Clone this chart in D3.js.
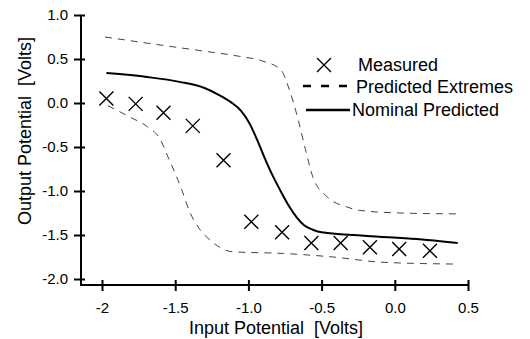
<!DOCTYPE html>
<html>
<head>
<meta charset="utf-8">
<script src="https://cdn.jsdelivr.net/npm/d3@7"></script>
<style>
  body { margin: 0; background: #fff; }
  text { font-family: "Liberation Sans", Arial, sans-serif; fill: #000; white-space: pre; }
</style>
</head>
<body>
<div id="chart"></div>
<script>
// measured points
const measuredX = [-1.97, -1.77, -1.58, -1.38, -1.17, -0.98, -0.77, -0.57, -0.37, -0.17, 0.03, 0.24];
const measuredY = [0.05, -0.01, -0.11, -0.26, -0.65, -1.35, -1.47, -1.59, -1.59, -1.64, -1.66, -1.68];

// nominal predicted curve
const nominalX = [-1.97, -1.69, -1.47, -1.30, -1.20, -1.12, -1.05, -0.99, -0.94, -0.89, -0.83, -0.78, -0.72, -0.67, -0.62, -0.56, -0.50, -0.19, 0.15, 0.43];
const nominalY = [0.34, 0.295, 0.24, 0.17, 0.09, 0.01, -0.09, -0.24, -0.42, -0.62, -0.84, -1.00, -1.18, -1.30, -1.39, -1.44, -1.47, -1.51, -1.545, -1.59];

// predicted extremes (upper / lower)
const upperX = [-1.98, -1.69, -1.35, -1.06, -0.91, -0.78, -0.72, -0.66, -0.61, -0.56, -0.46, -0.33, -0.24, 0.04, 0.43];
const upperY = [0.75, 0.68, 0.60, 0.53, 0.48, 0.38, 0.15, -0.19, -0.53, -0.84, -1.07, -1.18, -1.22, -1.25, -1.26];
const lowerX = [-1.96, -1.81, -1.69, -1.60, -1.55, -1.50, -1.45, -1.40, -1.33, -1.26, -1.11, -0.76, -0.42, -0.08, 0.41];
const lowerY = [-0.03, -0.16, -0.27, -0.42, -0.61, -0.80, -1.01, -1.24, -1.44, -1.56, -1.69, -1.71, -1.75, -1.81, -1.83];

const xTicks = [-2, -1.5, -1, -0.5, 0, 0.5];
const xTickLabels = ["-2", "-1.5", "-1.0", "-0.5", "0.0", "0.5"];
const yTicks = [1, 0.5, 0, -0.5, -1, -1.5, -2];
const yTickLabels = ["1.0", "0.5", "0.0", "-0.5", "-1.0", "-1.5", "-2.0"];

const legendItems = ["Measured", "Predicted Extremes", "Nominal Predicted"];

const width = 530, height = 339;
const axisLeft = 81, axisBottom = 285, axisTop = 15, axisRight = 468;

const svg = d3.select("#chart").append("svg")
  .attr("width", width)
  .attr("height", height);

const x = d3.scaleLinear().domain([-2, 0.5]).range([102, 468]);
const y = d3.scaleLinear().domain([-2, 1]).range([279, 15]);

const zip = (xs, ys) => xs.map((v, i) => [v, ys[i]]);

// axes
const xAxis = svg.append("g")
  .attr("transform", "translate(0," + axisBottom + ")")
  .call(d3.axisBottom(x).tickValues(xTicks)
    .tickFormat((d, i) => xTickLabels[i])
    .tickSize(6).tickPadding(11));
xAxis.select(".domain").remove();
xAxis.selectAll(".tick line").attr("y1", -5).attr("stroke-width", 2);
xAxis.selectAll("text").style("font-size", "15px").attr("font-family", null);

const yAxis = svg.append("g")
  .attr("transform", "translate(" + axisLeft + ",0)")
  .call(d3.axisLeft(y).tickValues(yTicks)
    .tickFormat((d, i) => yTickLabels[i])
    .tickSize(7).tickPadding(6));
yAxis.select(".domain").remove();
yAxis.selectAll(".tick line").attr("x1", 4).attr("stroke-width", 2);
yAxis.selectAll("text").style("font-size", "15px").attr("font-family", null);

svg.append("path")
  .attr("d", `M${axisLeft},${axisTop}V${axisBottom}H${axisRight}`)
  .attr("fill", "none")
  .attr("stroke", "#000")
  .attr("stroke-width", 2);

// axis titles
svg.append("text")
  .attr("x", 276)
  .attr("y", 334)
  .attr("text-anchor", "middle")
  .style("font-size", "18px")
  .text("Input Potential  [Volts]");

svg.append("text")
  .attr("transform", "translate(31,131) rotate(-90)")
  .attr("text-anchor", "middle")
  .style("font-size", "18px")
  .text("Output Potential  [Volts]");

// curves
const line = d3.line()
  .x(d => x(d[0]))
  .y(d => y(d[1]))
  .curve(d3.curveMonotoneX);

[zip(upperX, upperY), zip(lowerX, lowerY)].forEach(pts => {
  svg.append("path")
    .datum(pts)
    .attr("fill", "none")
    .attr("stroke", "#444")
    .attr("stroke-width", 1)
    .attr("stroke-dasharray", "7,6")
    .attr("d", line);
});

svg.append("path")
  .datum(zip(nominalX, nominalY))
  .attr("fill", "none")
  .attr("stroke", "#000")
  .attr("stroke-width", 2)
  .attr("d", line);

// measured X markers
const cross = (cx, cy, r) => `M${cx - r},${cy - r}L${cx + r},${cy + r}M${cx - r},${cy + r}L${cx + r},${cy - r}`;

svg.append("g")
  .selectAll("path")
  .data(zip(measuredX, measuredY))
  .enter()
  .append("path")
  .attr("d", d => cross(x(d[0]), y(d[1]), 7))
  .attr("stroke", "#000")
  .attr("stroke-width", 1.4)
  .attr("fill", "none");

// legend
const lg = svg.append("g");
lg.append("path")
  .attr("d", cross(324, 65, 7))
  .attr("stroke", "#000")
  .attr("stroke-width", 1.4);
lg.append("line")
  .attr("x1", 303).attr("x2", 350).attr("y1", 86).attr("y2", 86)
  .attr("stroke", "#000")
  .attr("stroke-width", 2.5)
  .attr("stroke-dasharray", "8,10");
lg.append("line")
  .attr("x1", 306).attr("x2", 350).attr("y1", 110).attr("y2", 110)
  .attr("stroke", "#000")
  .attr("stroke-width", 2.5);

const legendX = [358, 356, 352];
const legendY = [65, 87, 110];
lg.selectAll("text.legend")
  .data(legendItems)
  .enter()
  .append("text")
  .attr("class", "legend")
  .attr("x", (d, i) => legendX[i])
  .attr("y", (d, i) => legendY[i])
  .attr("dy", "0.35em")
  .style("font-size", "18px")
  .text(d => d);
</script>
</body>
</html>
